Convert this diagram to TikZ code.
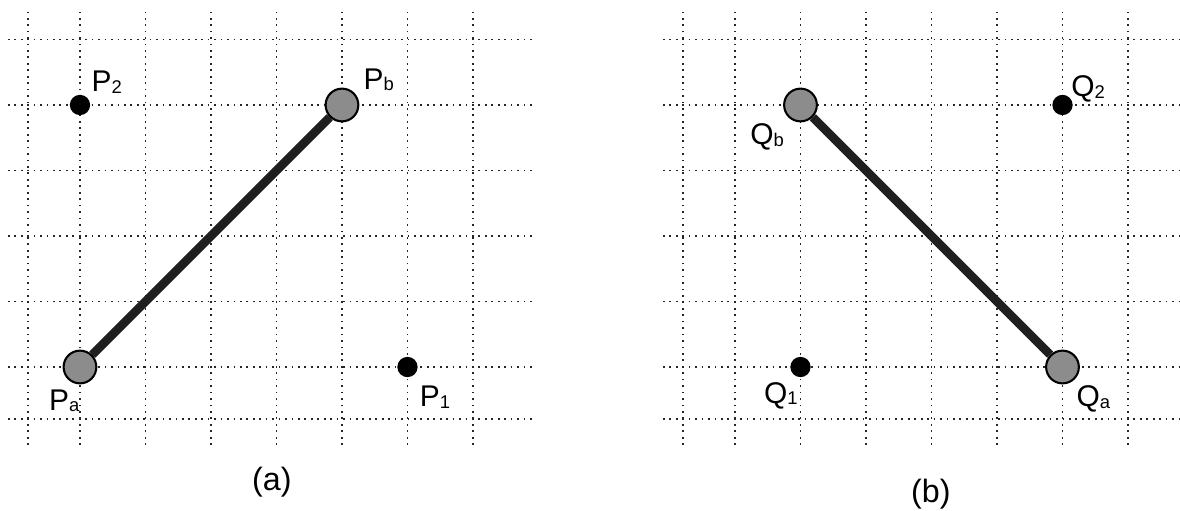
\documentclass[tikz,border=0pt]{standalone}
\usepackage{fontspec}
\setmainfont{Liberation Sans}
\newcommand\sub[1]{\raisebox{-0.6pt}{\fontsize{8}{9}\selectfont #1}}
\tikzset{
  gridline/.style={black!85, line width=0.75pt, dash pattern=on 0.75pt off 2.05pt},
  endpt/.style={circle, draw=black, line width=0.9pt, fill=black!45, minimum size=0.5cm, inner sep=0pt},
  freept/.style={circle, fill=black, minimum size=0.31cm, inner sep=0pt},
  segment/.style={line width=3.7pt, black!88},
  ptlabel/.style={font=\fontsize{13}{15}\selectfont, inner sep=0pt},
  caption/.style={font=\fontsize{14}{17}\selectfont, inner sep=0pt}
}

\begin{document}
\begin{tikzpicture}
  \useasboundingbox (-1.221,-2.198) rectangle (16.794,5.603);
  \clip (-1.221,-2.198) rectangle (16.794,5.603);
  % dotted grids
  \foreach \ox in {0,10} {
    \foreach \y in {-0.79,0,1,2,3,4,5}
      \draw[gridline] ({\ox-1.1},\y) -- ({\ox+6.95},\y);
    \foreach \x in {-0.79,0,1,2,3,4,5,6}
      \draw[gridline] ({\ox+\x},-1.19) -- ({\ox+\x},5.42);
  }
  % (a)
  \node[endpt] (Pa) at (0,0) {};
  \node[endpt] (Pb) at (4,4) {};
  \node[freept] (P1) at (5,0) {};
  \node[freept] (P2) at (0,4) {};
  \draw[segment] (Pa) -- (Pb);
  \node[ptlabel] (lPa) at (-0.24,-0.52) {P\sub{a}};
  \node[ptlabel] (lPb) at (4.56,4.38) {P\sub{b}};
  \node[ptlabel] (lP1) at (5.42,-0.46) {P\sub{1}};
  \node[ptlabel] (lP2) at (0.41,4.35) {P\sub{2}};
  \node[caption] (capa) at (2.93,-1.76) {(a)};
  % (b)
  \node[endpt] (Qa) at (15,0) {};
  \node[endpt] (Qb) at (11,4) {};
  \node[freept] (Q1) at (11,0) {};
  \node[freept] (Q2) at (15,4) {};
  \draw[segment] (Qb) -- (Qa);
  \node[ptlabel] (lQa) at (15.47,-0.49) {Q\sub{a}};
  \node[ptlabel] (lQb) at (10.49,3.51) {Q\sub{b}};
  \node[ptlabel] (lQ1) at (10.70,-0.44) {Q\sub{1}};
  \node[ptlabel] (lQ2) at (15.39,4.24) {Q\sub{2}};
  \node[caption] (capb) at (12.99,-1.94) {(b)};
\end{tikzpicture}
\end{document}
